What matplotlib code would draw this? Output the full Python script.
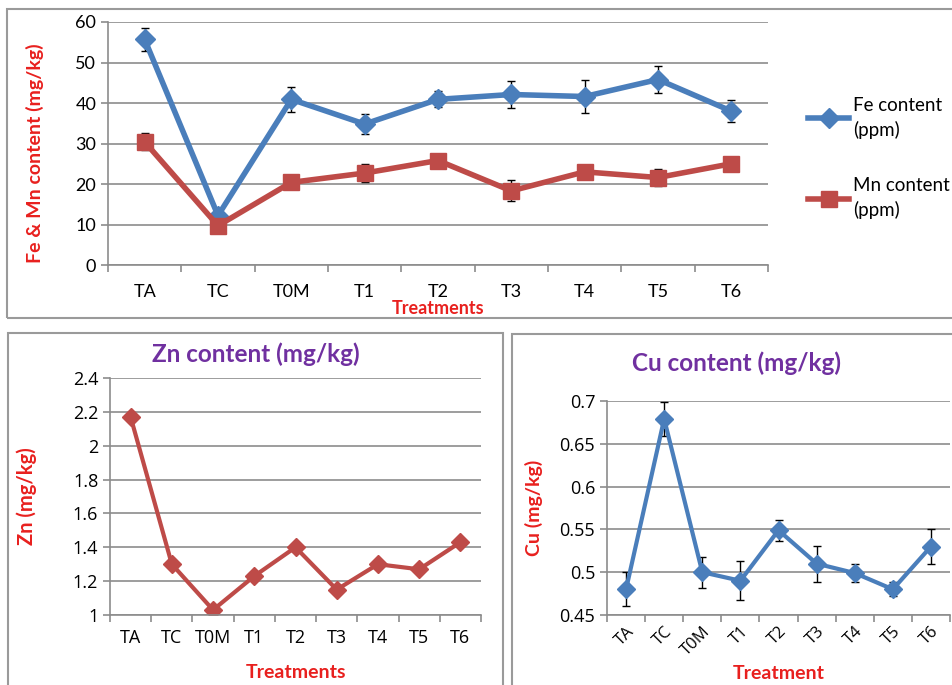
import matplotlib.pyplot as plt
from matplotlib.patches import Rectangle
import numpy as np

plt.rcParams['font.family'] = ['Lato', 'DejaVu Sans']

treatments = ["TA", "TC", "T0M", "T1", "T2", "T3", "T4", "T5", "T6"]

fe = [55.7, 12.2, 40.9, 34.8, 40.9, 42.1, 41.6, 45.8, 38.0]
fe_err = [2.9, 1.0, 3.1, 2.4, 2.0, 3.4, 4.0, 3.4, 2.8]
mn = [30.4, 9.7, 20.4, 22.7, 25.8, 18.3, 23.0, 21.6, 25.0]
mn_err = [2.1, 1.0, 0.8, 2.3, 1.0, 2.6, 1.0, 2.0, 1.3]

zn = [2.17, 1.30, 1.03, 1.23, 1.40, 1.15, 1.30, 1.27, 1.43]

cu = [0.48, 0.679, 0.50, 0.49, 0.549, 0.51, 0.499, 0.48, 0.53]
cu_err = [0.02, 0.02, 0.018, 0.023, 0.012, 0.021, 0.01, 0.008, 0.02]

blue = "#4A7EBB"
red = "#BE4B48"
purple = "#7030A0"
lab_red = "#E8201E"
grid_c = "#8C8C8C"
tick_font = ['Open Sans', 'DejaVu Sans']

W, H = 952, 685
fig = plt.figure(figsize=(W / 100, H / 100), dpi=100)


def fpos(x0, y0, x1, y1):
    # pixel box (top-left origin) -> figure fraction
    return [x0 / W, 1 - y1 / H, (x1 - x0) / W, (y1 - y0) / H]


def style_axes(ax, n):
    ax.set_xlim(-0.5, n - 0.5)
    for s in ["top", "right"]:
        ax.spines[s].set_visible(False)
    for s in ["left", "bottom"]:
        ax.spines[s].set_color(grid_c)
        ax.spines[s].set_linewidth(1.2)
    ax.yaxis.grid(True, color=grid_c, linewidth=1.2)
    ax.set_axisbelow(True)
    ax.set_xticks(np.arange(n))
    ax.set_xticks(np.arange(n + 1) - 0.5, minor=True)
    ax.tick_params(axis="x", which="major", length=0, pad=10)
    ax.tick_params(axis="x", which="minor", length=5, color=grid_c, width=1.2)
    ax.tick_params(axis="y", length=5, color=grid_c, width=1.2)


# frames around the three panels
for (x0, y0, x1, y1) in [(7, 9, 960, 318), (8, 333, 503, 700), (512, 334, 960, 700)]:
    fig.patches.append(Rectangle((x0 / W, 1 - y1 / H), (x1 - x0) / W, (y1 - y0) / H,
                                 transform=fig.transFigure, fill=False,
                                 edgecolor="#9A9A9A", linewidth=1.5))

x = np.arange(len(treatments))

# top panel: Fe & Mn
ax1 = fig.add_axes(fpos(108, 22, 768, 265))
style_axes(ax1, len(treatments))
ax1.errorbar(x, fe, yerr=fe_err, color=blue, lw=4, marker="D", ms=10,
             ecolor="black", elinewidth=1, capsize=3, label="Fe content\n(ppm)")
ax1.errorbar(x, mn, yerr=mn_err, color=red, lw=4, marker="s", ms=11,
             ecolor="black", elinewidth=1, capsize=3, label="Mn content\n(ppm)")
ax1.set_ylim(0, 60)
ax1.set_yticks(range(0, 61, 10))
ax1.set_xticklabels(treatments, fontsize=13)
ax1.tick_params(axis="x", which="major", pad=14)
ax1.tick_params(axis="y", labelsize=13)
ax1.set_ylabel("Fe & Mn content (mg/kg)", color=lab_red, fontweight="bold", fontsize=14)
ax1.yaxis.set_label_coords(-0.097, 0.46)
ax1.set_xlabel("Treatments", color=lab_red, fontweight="bold", fontsize=13, labelpad=0)
h, l = ax1.get_legend_handles_labels()
h = [hh[0] for hh in h]
leg = ax1.legend(h, l, loc="center left", bbox_to_anchor=(1.035, 0.44), frameon=False,
                 fontsize=13.5, labelspacing=2.0, handlelength=2.2, handletextpad=0.2)
for t in leg.get_texts():
    t.set_linespacing(1.5)

# bottom left: Zn
ax2 = fig.add_axes(fpos(110, 378, 481, 615))
style_axes(ax2, len(treatments))
ax2.plot(x, zn, color=red, lw=3, marker="D", ms=9)
ax2.set_ylim(1, 2.4)
ax2.set_yticks([1, 1.2, 1.4, 1.6, 1.8, 2, 2.2, 2.4])
ax2.set_yticklabels(["1", "1.2", "1.4", "1.6", "1.8", "2", "2.2", "2.4"], family=tick_font, fontsize=13)
ax2.set_xticklabels(treatments, family=tick_font, fontsize=13)
ax2.set_ylabel("Zn (mg/kg)", color=lab_red, fontweight="bold", fontsize=14.5)
ax2.yaxis.set_label_coords(-0.197, 0.5)
ax2.set_xlabel("Treatments", color=lab_red, fontweight="bold", fontsize=14, labelpad=12)
fig.text(256 / W, 1 - 354 / H, "Zn content (mg/kg)", color=purple, fontweight="bold",
         fontsize=17.5, ha="center", va="center")

# bottom right: Cu
ax3 = fig.add_axes(fpos(607, 401, 950, 615))
style_axes(ax3, len(treatments))
ax3.errorbar(x, cu, yerr=cu_err, color=blue, lw=3, marker="D", ms=9,
             ecolor="black", elinewidth=1, capsize=3)
ax3.set_ylim(0.45, 0.7)
ax3.set_yticks([0.45, 0.5, 0.55, 0.6, 0.65, 0.7])
ax3.set_yticklabels(["0.45", "0.5", "0.55", "0.6", "0.65", "0.7"], family=tick_font, fontsize=13)
ax3.set_xticklabels(treatments, family=tick_font, fontsize=12, rotation=45, ha="right",
                    rotation_mode="anchor")
ax3.tick_params(axis="x", which="major", pad=6)
ax3.set_ylabel("Cu (mg/kg)", color=lab_red, fontweight="bold", fontsize=14)
ax3.yaxis.set_label_coords(-0.187, 0.5)
ax3.set_xlabel("Treatment", color=lab_red, fontweight="bold", fontsize=14, labelpad=5)
fig.text(736 / W, 1 - 363 / H, "Cu content (mg/kg)", color=purple, fontweight="bold",
         fontsize=17.5, ha="center", va="center")

fig.savefig("out.png", dpi=100)
